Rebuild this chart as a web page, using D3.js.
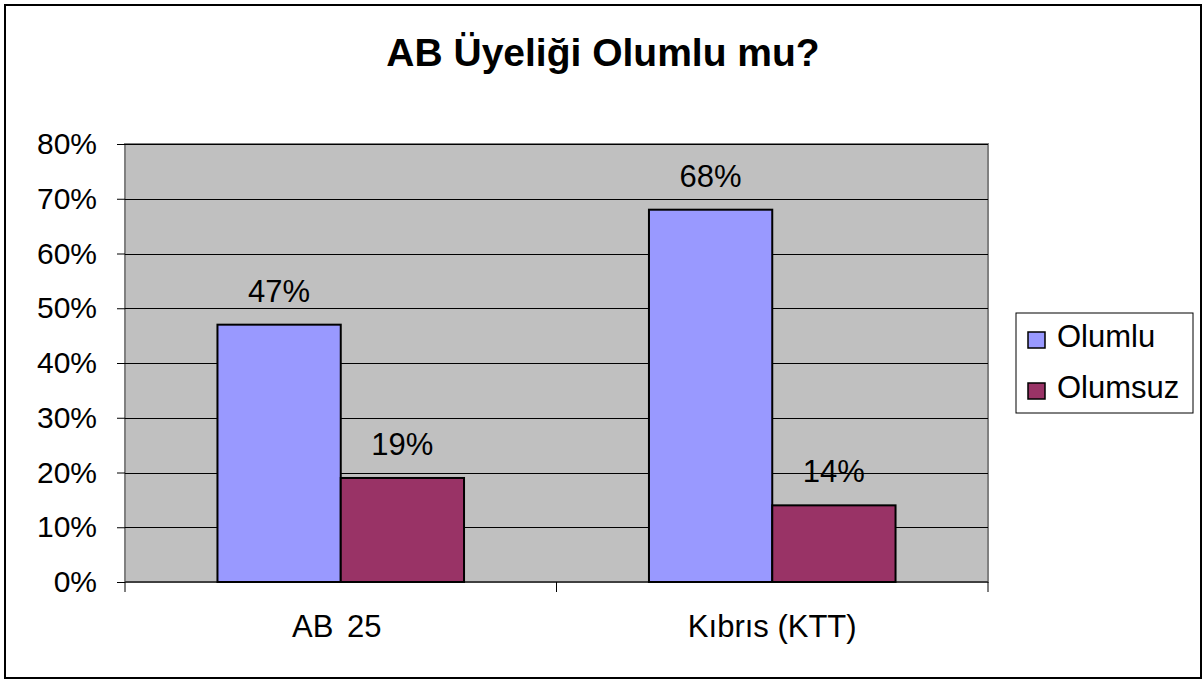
<!DOCTYPE html>
<html lang="tr">
<head>
    <meta charset="UTF-8">
    <title>AB Üyeliği Olumlu mu?</title>
    <script src="https://cdn.jsdelivr.net/npm/d3@7/dist/d3.min.js"></script>
    <style>
        body{
            margin: 0;
            font-family: "Liberation Sans", Arial, sans-serif;
            background: white;
        }
        .yAxis text{
            font-family: "Liberation Sans", Arial, sans-serif;
            font-size: 30px;
            fill: black;
        }
        .xAxis text{
            font-family: "Liberation Sans", Arial, sans-serif;
            font-size: 31px;
            fill: black;
        }
        .yAxis path, .xAxis path{
            display: none;
        }
    </style>
</head>
<body>
<svg id="main" width="1204" height="683"></svg>
<script>
    const width = 1204, height = 683;
    const plot = {left: 125, right: 988, top: 144, bottom: 582};

    // data
    const categories = ["AB 25", "Kıbrıs (KTT)"];
    const seriesNames = ["Olumlu", "Olumsuz"];
    const olumlu = [0.47, 0.68];
    const olumsuz = [0.19, 0.14];
    const yTicks = [0, 0.1, 0.2, 0.3, 0.4, 0.5, 0.6, 0.7, 0.8];

    const colors = ["#9999FF", "#993366"];
    const svg = d3.select("svg#main");

    // outer frame
    svg.append("rect")
        .attr("x", 5).attr("y", 5)
        .attr("width", 1196).attr("height", 673)
        .attr("fill", "white")
        .attr("stroke", "black")
        .attr("stroke-width", 2);

    // title
    svg.append("text")
        .attr("x", 603).attr("y", 66)
        .attr("text-anchor", "middle")
        .attr("font-size", "39px")
        .attr("font-weight", "bold")
        .text("AB Üyeliği Olumlu mu?");

    const yScale = d3.scaleLinear()
        .domain([0, 0.8])
        .range([plot.bottom, plot.top]);

    const xScale = d3.scaleBand()
        .domain(categories)
        .range([plot.left, plot.right]);

    const inner = d3.scaleBand()
        .domain(seriesNames)
        .range([0, xScale.bandwidth()])
        .paddingOuter(0.75)
        .paddingInner(0);

    // plot background
    svg.append("rect")
        .attr("x", plot.left).attr("y", plot.top)
        .attr("width", plot.right - plot.left)
        .attr("height", plot.bottom - plot.top)
        .attr("fill", "#C0C0C0")
        .attr("stroke", "#808080")
        .attr("stroke-width", 2);

    // gridlines
    svg.append("g")
        .selectAll("line")
        .data(yTicks.slice(1))
        .join("line")
        .attr("x1", plot.left).attr("x2", plot.right)
        .attr("y1", d => Math.round(yScale(d)) + 0.5)
        .attr("y2", d => Math.round(yScale(d)) + 0.5)
        .attr("stroke", "black")
        .attr("stroke-width", 1);

    // y axis
    const yAxis = d3.axisLeft(yScale)
        .tickValues(yTicks)
        .tickFormat(d3.format(".0%"))
        .tickSize(8)
        .tickPadding(20);
    svg.append("g")
        .attr("class", "yAxis")
        .attr("transform", `translate(${plot.left},0)`)
        .call(yAxis)
        .selectAll(".tick line").attr("stroke", "black");

    // x axis tick marks at category boundaries
    const bounds = [plot.left, ...categories.map(c => xScale(c) + xScale.bandwidth())];
    svg.append("g")
        .selectAll("line")
        .data(bounds)
        .join("line")
        .attr("x1", d => d).attr("x2", d => d)
        .attr("y1", plot.bottom).attr("y2", plot.bottom + 10)
        .attr("stroke", "black");
    svg.append("line")
        .attr("x1", plot.left).attr("x2", plot.right)
        .attr("y1", plot.bottom).attr("y2", plot.bottom)
        .attr("stroke", "black");

    const xAxis = d3.axisBottom(xScale).tickSize(0).tickPadding(33);
    svg.append("g")
        .attr("class", "xAxis")
        .attr("transform", `translate(0,${plot.bottom})`)
        .call(xAxis)
        .selectAll("text")
        .attr("dx", (d, i) => i === 0 ? "-4px" : null)
        .attr("word-spacing", (d, i) => i === 0 ? "5px" : null);

    // bars
    const rows = categories.map((c, i) => ({cat: c, values: [olumlu[i], olumsuz[i]]}));
    const groups = svg.append("g")
        .selectAll("g")
        .data(rows)
        .join("g")
        .attr("transform", d => `translate(${xScale(d.cat)},0)`);

    groups.selectAll("rect")
        .data(d => d.values.map((v, j) => ({name: seriesNames[j], v: v, j: j})))
        .join("rect")
        .attr("x", d => inner(d.name))
        .attr("y", d => yScale(d.v))
        .attr("width", inner.bandwidth())
        .attr("height", d => yScale(0) - yScale(d.v))
        .attr("fill", d => colors[d.j])
        .attr("stroke", "black")
        .attr("stroke-width", 2);

    groups.selectAll("text")
        .data(d => d.values.map((v, j) => ({name: seriesNames[j], v: v})))
        .join("text")
        .attr("x", d => inner(d.name) + inner.bandwidth() / 2)
        .attr("y", d => yScale(d.v) - 23)
        .attr("text-anchor", "middle")
        .attr("font-size", "31px")
        .text(d => d3.format(".0%")(d.v));

    // legend
    const legend = svg.append("g");
    legend.append("rect")
        .attr("x", 1016).attr("y", 313)
        .attr("width", 177).attr("height", 100)
        .attr("fill", "white")
        .attr("stroke", "black")
        .attr("stroke-width", 1);
    const items = legend.selectAll(".item")
        .data(seriesNames)
        .join("g")
        .attr("class", "item")
        .attr("transform", (_, i) => `translate(1028,${347 + i * 51})`);
    items.append("rect")
        .attr("x", 0).attr("y", -15)
        .attr("width", 17).attr("height", 16)
        .attr("fill", (_, i) => colors[i])
        .attr("stroke", "black")
        .attr("stroke-width", 1.5);
    items.append("text")
        .attr("x", 29).attr("y", 0)
        .attr("font-size", "31px")
        .text(d => d);
</script>
</body>
</html>
